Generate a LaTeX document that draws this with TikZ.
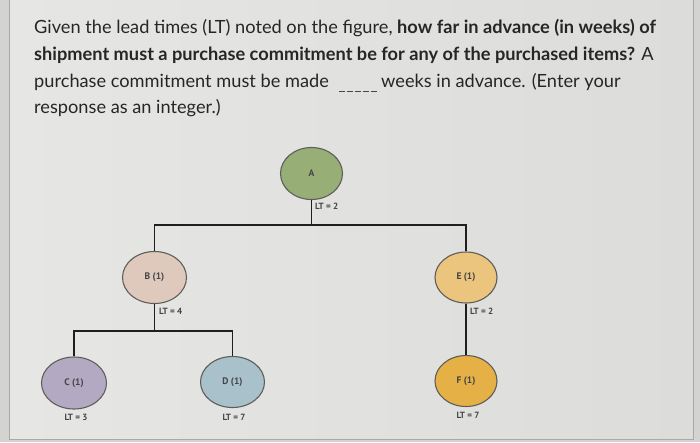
\documentclass[tikz,border=0pt]{standalone}
\usepackage{fontspec}
\setmainfont{Lato}
\newfontfamily\labfont{PT Sans}
\usetikzlibrary{shapes.geometric}
\definecolor{bgleft}{HTML}{E6E7E5}
\definecolor{bgright}{HTML}{DCDDDB}
\definecolor{outer}{HTML}{D3D4D2}
\definecolor{cardedge}{HTML}{A9AAA8}
\definecolor{qcol}{HTML}{262626}
\definecolor{labgray}{HTML}{454545}
\definecolor{edgegray}{HTML}{5E5E58}
\definecolor{fillA}{HTML}{98AE77}
\definecolor{fillB}{HTML}{DFC9BD}
\definecolor{fillE}{HTML}{EBC57D}
\definecolor{fillC}{HTML}{B4A9C3}
\definecolor{fillD}{HTML}{A8C1CB}
\definecolor{fillF}{HTML}{E5B046}
\begin{document}
\begin{tikzpicture}[x=1pt,y=-1pt,
  item/.style={ellipse, draw=edgegray, line width=1.1pt, inner sep=0pt,
    font=\labfont\bfseries\fontsize{9.5}{10}\selectfont, text=labgray},
  link/.style={line width=1.8pt, draw=black!88},
  ltlab/.style={font=\labfont\bfseries\fontsize{9}{10}\selectfont, text=labgray, inner sep=0pt},
  qtext/.style={font=\fontsize{18.2}{22}\selectfont, text=qcol, inner sep=0pt, anchor=base west},
  blank/.style={draw=labgray, line width=0.9pt, dash pattern=on 6.4pt off 1.6pt}]
\useasboundingbox (0,0) rectangle (700,442);
\fill[outer] (0,0) rectangle (700,442);
\shade[left color=bgleft, right color=bgright] (9,0) rectangle (693,439);
\draw[cardedge, line width=0.8pt] (9,0) -- (9,439) -- (693,439) -- (693,0);

% question text
\node[qtext] (q1) at (34,33) {Given the lead times (LT) noted on the figure, \textbf{how far in advance (in weeks) of}};
\node[qtext] (q2) at (34,60) {\textbf{shipment must a purchase commitment be for any of the purchased items?} A};
\node[qtext] (q3a) at (34,87) {purchase commitment must be made};
\coordinate (b1) at (339,91);
\coordinate (b2) at (379,91);
\draw[blank] (b1) -- (b2);
\node[qtext] (q3b) at (381,87) {weeks in advance. (Enter your};
\node[qtext] (q4) at (34,113) {response as an integer.)};

% product structure tree
\node[item, fill=fillA, minimum width=62pt, minimum height=52pt] (A) at (311.5,173.5) {A};
\node[item, fill=fillB, minimum width=64pt, minimum height=52pt] (B) at (154.5,277.5) {B (1)};
\node[item, fill=fillE, minimum width=62pt, minimum height=51pt] (E) at (466,277.5) {E (1)};
\node[item, fill=fillC, minimum width=65pt, minimum height=52pt] (C) at (74,383) {C (1)};
\node[item, fill=fillD, minimum width=64pt, minimum height=51pt] (D) at (232.5,382) {D (1)};
\node[item, fill=fillF, minimum width=62pt, minimum height=51pt] (F) at (466,381) {F (1)};

\coordinate (abar) at (311.5,225);
\coordinate (bbar) at (154.5,331);
\draw[link] (A) -- (abar);
\draw[link] (abar) -| (B);
\draw[link] (abar) -| (E);
\draw[link] (B) -- (bbar);
\draw[link] (bbar) -| (C);
\draw[link] (bbar) -| (D);
\draw[link] (E) -- (F);

\node[ltlab, anchor=west] (ltA) at (315,206) {LT = 2};
\node[ltlab, anchor=west] (ltB) at (159,311) {LT = 4};
\node[ltlab, anchor=west] (ltE) at (470,311) {LT = 2};
\node[ltlab] (ltC) at (76,417) {LT = 3};
\node[ltlab] (ltD) at (234,417) {LT = 7};
\node[ltlab] (ltF) at (468,415) {LT = 7};
\end{tikzpicture}
\end{document}
